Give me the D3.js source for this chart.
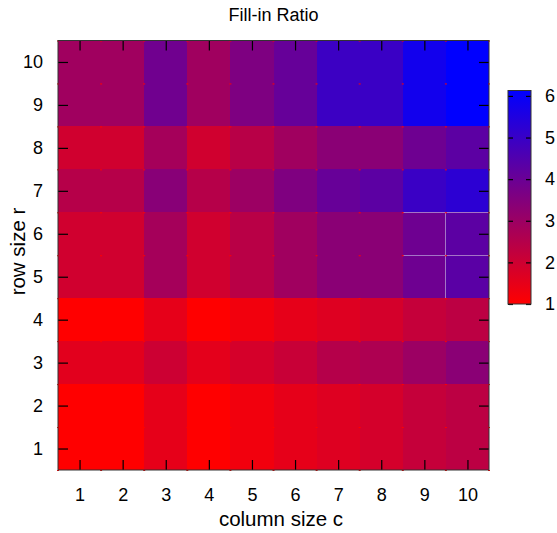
<!DOCTYPE html>
<html>
<head>
<meta charset="utf-8">
<script src="https://cdn.jsdelivr.net/npm/d3@7"></script>
<style>
  body { margin: 0; background: #fff; }
  text { font-family: "Liberation Sans", Arial, sans-serif; fill: #000; }
</style>
</head>
<body>
<div class="canvas"></div>
<script>
// data: column sizes, row sizes, fill-in ratio per row (row 1 first)
const cols = [1, 2, 3, 4, 5, 6, 7, 8, 9, 10];
const rows = [1, 2, 3, 4, 5, 6, 7, 8, 9, 10];
const ratio = [
  [1.00, 1.00, 1.50, 1.00, 1.26, 1.50, 1.66, 1.87, 2.17, 2.35], // r = 1
  [1.00, 1.00, 1.50, 1.00, 1.26, 1.50, 1.66, 1.87, 2.17, 2.35], // r = 2
  [1.58, 1.58, 2.03, 1.54, 1.85, 2.11, 2.49, 2.63, 2.99, 3.35], // r = 3
  [1.00, 1.00, 1.50, 1.00, 1.26, 1.50, 1.66, 1.87, 2.17, 2.35], // r = 4
  [1.95, 1.95, 2.81, 1.95, 2.40, 2.91, 3.35, 3.35, 3.92, 4.32], // r = 5
  [1.95, 1.95, 2.81, 1.95, 2.40, 2.91, 3.35, 3.35, 3.92, 4.28], // r = 6
  [2.47, 2.47, 3.39, 2.47, 2.99, 3.58, 4.06, 4.28, 4.96, 5.25], // r = 7
  [1.95, 1.95, 2.81, 1.95, 2.43, 2.91, 3.35, 3.35, 3.92, 4.28], // r = 8
  [2.91, 2.91, 3.88, 2.91, 3.60, 4.08, 4.92, 4.96, 5.77, 6.13], // r = 9
  [2.91, 2.91, 3.88, 2.91, 3.60, 4.08, 4.92, 4.96, 5.77, 6.13]  // r = 10
];
const cbTicks = [1, 2, 3, 4, 5, 6];
const cbRange = [1, 6.13];

const width = 557, height = 533;
const plot = { left: 58, right: 489, top: 40.5, bottom: 470 };

const svg = d3.select('.canvas')
  .append('svg')
  .attr('width', width)
  .attr('height', height);

// scales
const x = d3.scaleLinear().domain([0.5, 10.5]).range([plot.left, plot.right]);
const y = d3.scaleLinear().domain([0.5, 10.5]).range([plot.bottom, plot.top]);
const color = d3.scaleLinear().domain(cbRange).range(['#ff0000', '#0000ff'])
  .interpolate(d3.interpolateRgb).clamp(true);

// flatten the matrix into cells
const cells = [];
rows.forEach((r, i) => {
  cols.forEach((c, j) => cells.push({ r, c, v: ratio[i][j] }));
});

svg.append('g')
  .selectAll('rect')
  .data(cells)
  .enter()
  .append('rect')
  .attr('x', d => x(d.c - 0.5))
  .attr('y', d => y(d.r + 0.5))
  .attr('width', d => x(d.c + 0.5) - x(d.c - 0.5))
  .attr('height', d => y(d.r - 0.5) - y(d.r + 0.5))
  .attr('fill', d => color(d.v))
  .attr('shape-rendering', 'crispEdges');

// faint grid lines around a few cells (as in the original render)
const faint = svg.append('g')
  .attr('stroke', '#a474c6')
  .attr('stroke-width', 1)
  .attr('shape-rendering', 'crispEdges');
[5.5, 6.5].forEach(r => {
  faint.append('line')
    .attr('x1', x(8.5)).attr('x2', x(10.5))
    .attr('y1', y(r)).attr('y2', y(r));
});
faint.append('line')
  .attr('x1', x(9.5)).attr('x2', x(9.5))
  .attr('y1', y(6.5)).attr('y2', y(4.5));

// small red marks at the cell corners
const corners = [];
d3.range(0.5, 11, 1).forEach(c => {
  d3.range(0.5, 11, 1).forEach(r => corners.push({ c, r }));
});
svg.append('g')
  .selectAll('rect')
  .data(corners)
  .enter()
  .append('rect')
  .attr('x', d => x(d.c) - 1)
  .attr('y', d => y(d.r))
  .attr('width', 2)
  .attr('height', 1)
  .attr('fill', '#ff0000');

// axes, ticks point inward and mirror on opposite sides
const styleAxis = g => {
  g.select('.domain').remove();
  g.selectAll('line').attr('stroke', '#000').attr('stroke-width', 1.2);
  g.selectAll('text').style('font-size', '18px');
};

svg.append('g')
  .attr('transform', `translate(${plot.left},0)`)
  .call(d3.axisLeft(y).tickValues(rows).tickSizeInner(-10).tickSizeOuter(0).tickPadding(15))
  .call(styleAxis);

svg.append('g')
  .attr('transform', `translate(${plot.right},0)`)
  .call(d3.axisRight(y).tickValues(rows).tickSizeInner(-10).tickSizeOuter(0).tickFormat(''))
  .call(styleAxis);

svg.append('g')
  .attr('transform', `translate(0,${plot.bottom})`)
  .call(d3.axisBottom(x).tickValues(cols).tickSizeInner(-10).tickSizeOuter(0).tickPadding(18))
  .call(styleAxis);

svg.append('g')
  .attr('transform', `translate(0,${plot.top})`)
  .call(d3.axisTop(x).tickValues(cols).tickSizeInner(-10).tickSizeOuter(0).tickFormat(''))
  .call(styleAxis);

// border
svg.append('rect')
  .attr('x', plot.left)
  .attr('y', plot.top)
  .attr('width', plot.right - plot.left)
  .attr('height', plot.bottom - plot.top)
  .attr('fill', 'none')
  .attr('stroke', '#333')
  .attr('stroke-width', 1);

// colour box
const cb = { left: 508, right: 531, top: 90.5, bottom: 304 };
const cy = d3.scaleLinear().domain(cbRange).range([cb.bottom, cb.top]);

const grad = svg.append('defs').append('linearGradient')
  .attr('id', 'cbgrad')
  .attr('x1', 0).attr('y1', 1).attr('x2', 0).attr('y2', 0);
grad.append('stop').attr('offset', '0%').attr('stop-color', color(cbRange[0]));
grad.append('stop').attr('offset', '100%').attr('stop-color', color(cbRange[1]));

svg.append('rect')
  .attr('x', cb.left)
  .attr('y', cb.top)
  .attr('width', cb.right - cb.left)
  .attr('height', cb.bottom - cb.top)
  .attr('fill', 'url(#cbgrad)');

svg.append('g')
  .attr('transform', `translate(${cb.left},0)`)
  .call(d3.axisLeft(cy).tickValues(cbTicks).tickSizeInner(-5).tickSizeOuter(0).tickFormat(''))
  .call(styleAxis);

svg.append('g')
  .attr('transform', `translate(${cb.right},0)`)
  .call(d3.axisRight(cy).tickValues(cbTicks).tickSizeInner(-5).tickSizeOuter(0)
    .tickPadding(14).tickFormat(d3.format('d')))
  .call(styleAxis);

svg.append('rect')
  .attr('x', cb.left)
  .attr('y', cb.top)
  .attr('width', cb.right - cb.left)
  .attr('height', cb.bottom - cb.top)
  .attr('fill', 'none')
  .attr('stroke', '#333')
  .attr('stroke-width', 1);

// titles
svg.append('text')
  .attr('x', (plot.left + plot.right) / 2)
  .attr('y', 21)
  .attr('text-anchor', 'middle')
  .style('font-size', '18px')
  .text('Fill-in Ratio');

svg.append('text')
  .attr('x', 281)
  .attr('y', 526)
  .attr('text-anchor', 'middle')
  .style('font-size', '20.5px')
  .text('column size c');

svg.append('text')
  .attr('transform', 'translate(25,251.5) rotate(-90)')
  .attr('text-anchor', 'middle')
  .style('font-size', '20.5px')
  .text('row size r');
</script>
</body>
</html>
